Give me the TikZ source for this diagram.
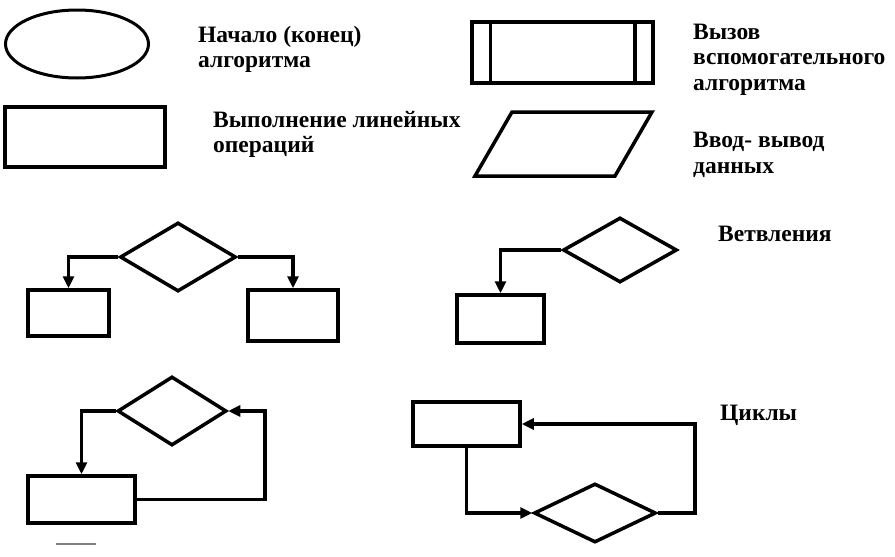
\documentclass[tikz,border=0pt]{standalone}
\usepackage{fontspec}
\setmainfont{Liberation Serif}
\usetikzlibrary{arrows.meta,shapes.geometric}

\tikzset{
  block/.style={draw, rectangle, line width=3.5pt, inner sep=0pt},
  cond/.style={draw, diamond, line width=3.5pt, inner sep=0pt},
  term/.style={draw, ellipse, line width=3pt, inner sep=0pt},
  flow/.style={line width=3.5pt, -{Triangle[length=12pt,width=11pt]}},
  legend/.style={anchor=base west, inner sep=0pt, align=left,
    font=\fontsize{23.5}{25.5}\selectfont\bfseries}
}

\begin{document}
\begin{tikzpicture}[x=1pt, y=-1pt]
      \useasboundingbox (0,0) rectangle (895,557);

      % Legend shapes
      \node[term, minimum width=143pt, minimum height=68pt] (start) at (77,44) {};
      \node[block, minimum width=160pt, minimum height=60pt] (proc) at (85,137) {};
      \node[block, minimum width=181pt, minimum height=61pt] (call) at (562.5,52.5) {};
      \draw[line width=3.5pt] ([xshift=20pt]call.north west) -- ([xshift=20pt]call.south west);
      \draw[line width=3.5pt] ([xshift=-20pt]call.north east) -- ([xshift=-20pt]call.south east);
      \draw[line width=3.5pt, line join=miter] (475,176) -- (512,112) -- (652,112) -- (615,176) -- cycle;

      % Legend labels (anchored at the baseline of the last line)
      \node[legend] (lstart) at (198,67.5) {Начало (конец)\\алгоритма};
      \node[legend] (lproc) at (213,152.5) {Выполнение линейных\\операций};
      \node[legend] (lcall) at (693,90) {Вызов\\вспомогательного\\алгоритма};
      \node[legend] (lio) at (693,173) {Ввод- вывод\\данных};
      \node[legend] (lbranch) at (718,241) {Ветвления};
      \node[legend] (lloop) at (720,420) {Циклы};

      % Full branch
      \node[cond, minimum width=116pt, minimum height=69pt] (if1) at (178,257) {};
      \node[block, minimum width=81pt, minimum height=46pt] (yes1) at (68.5,313) {};
      \node[block, minimum width=90pt, minimum height=51pt] (no1) at (293,315.5) {};
      \draw[flow] (if1.west) -| (yes1.north);
      \draw[flow] (if1.east) -| (no1.north);

      % Short branch
      \node[cond, minimum width=114pt, minimum height=65pt] (if2) at (620,250) {};
      \node[block, minimum width=87pt, minimum height=48pt] (yes2) at (500.5,319) {};
      \draw[flow] (if2.west) -| (yes2.north);

      % Loop with precondition
      \node[cond, minimum width=109pt, minimum height=69pt] (while) at (172,411) {};
      \node[block, minimum width=107pt, minimum height=47pt] (body1) at (81.5,499.5) {};
      \draw[flow] (while.west) -| (body1.north);
      \draw[flow] (body1.east) -- ++(128,0) |- (while.east);

      % Loop with postcondition
      \node[block, minimum width=107pt, minimum height=44pt] (body2) at (466.5,424) {};
      \node[cond, minimum width=122pt, minimum height=59pt] (until) at (595,513) {};
      \draw[flow] (body2.south) |- (until.west);
      \draw[flow] (until.east) -- ++(37,0) |- (body2.east);

      \draw[gray, line width=1.2pt] (56,544) -- (96,544);
    \end{tikzpicture}
\end{document}
